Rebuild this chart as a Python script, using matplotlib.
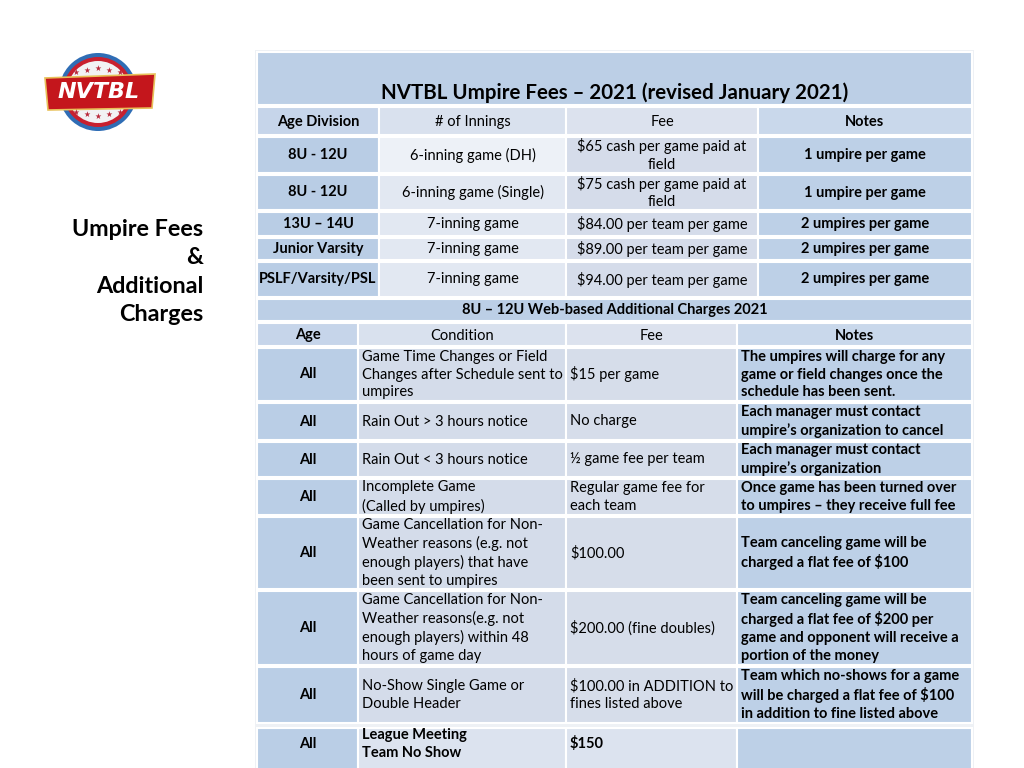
import matplotlib.pyplot as plt
from matplotlib.patches import Rectangle, Circle, Polygon

plt.rcParams['font.family'] = ['Lato', 'DejaVu Sans']

# data
title = 'NVTBL Umpire Fees \u2013 2021 (revised January 2021)'
fee_header = ['Age Division', '# of Innings', 'Fee', 'Notes']
fee_rows = [
    ['8U - 12U', '6-inning game (DH)', '$65 cash per game paid at\nfield', '1 umpire per game'],
    ['8U - 12U', '6-inning game (Single)', '$75 cash per game paid at\nfield', '1 umpire per game'],
    ['13U \u2013 14U', '7-inning game', '$84.00 per team per game', '2 umpires per game'],
    ['Junior Varsity', '7-inning game', '$89.00 per team per game', '2 umpires per game'],
    ['PSLF/Varsity/PSL', '7-inning game', '$94.00 per team per game', '2 umpires per game'],
]
extra_title = '8U \u2013 12U Web-based Additional Charges 2021'
extra_header = ['Age', 'Condition', 'Fee', 'Notes']
extra_rows = [
    ['All', 'Game Time Changes or Field\nChanges after Schedule sent to\numpires', '$15 per game',
     'The umpires will charge for any\ngame or field changes once the\nschedule has been sent.'],
    ['All', 'Rain Out > 3 hours notice', 'No charge',
     'Each manager must contact\numpire\u2019s organization to cancel'],
    ['All', 'Rain Out < 3 hours notice', '\u00bd game fee per team',
     'Each manager must contact\numpire\u2019s organization'],
    ['All', 'Incomplete Game\n(Called by umpires)', 'Regular game fee for\neach team',
     'Once game has been turned over\nto umpires \u2013 they receive full fee'],
    ['All', 'Game Cancellation for Non-\nWeather reasons (e.g. not\nenough players) that have\nbeen sent to umpires', '$100.00',
     'Team canceling game will be\ncharged a flat fee of $100'],
    ['All', 'Game Cancellation for Non-\nWeather reasons(e.g. not\nenough players) within 48\nhours of game day', '$200.00 (fine doubles)',
     'Team canceling game will be\ncharged a flat fee of $200 per\ngame and opponent will receive a\nportion of the money'],
    ['All', 'No-Show Single Game or\nDouble Header', '$100.00 in ADDITION to\nfines listed above',
     'Team which no-shows for a game\nwill be charged a flat fee of $100\nin addition to fine listed above'],
    ['All', 'League Meeting\nTeam No Show', '$150', ''],
]

# layout (pixels)
L, R = 257, 972
cols1 = [257, 379, 566, 758, 972]
rows1 = [(107, 135), (137, 173), (175, 210), (212, 236), (238, 260), (262, 297)]
cols2 = [257, 358, 566, 737, 972]
rows2 = [(323, 346), (348, 401), (403, 440), (442, 477), (479, 515), (517, 589), (591, 665), (667, 723), (728, 772)]

col_colors1 = ['#B9CDE5', '#E2E8F2', '#D5DCEA', '#BDD0E7']
head_colors1 = ['#C6D5EA', '#D9E1EE', '#DCE2EE', '#C9D8EB']
col_colors2 = ['#BACEE6', '#D4DCEA', '#D6DDEA', '#BDD0E7']
head_colors2 = ['#C6D5EA', '#D9E1EE', '#DCE2EE', '#C9D8EB']
band = '#BCCFE6'
fs = 10.5
ls = 1.36

fig = plt.figure(figsize=(10.24, 7.68), dpi=100)
ax = fig.add_axes([0, 0, 1, 1])
ax.set_xlim(0, 1024)
ax.set_ylim(768, 0)
ax.axis('off')


def cell(x0, x1, y0, y1, color):
    ax.add_patch(Rectangle((x0, y0), x1 - x0, y1 - y0, facecolor=color, edgecolor='white', lw=1.5))


# faint shadow round the table
ax.add_patch(Rectangle((L - 2, 50), R - L + 4, 722, facecolor='#EEF1F5', edgecolor='none'))

# title band
cell(L, R, 52, 105, band)
ax.text((L + R) / 2, 93, title, ha='center', va='center', fontsize=14.8, fontweight='bold', color='black')

# fee table
for j, h in enumerate(fee_header):
    y0, y1 = rows1[0]
    cell(cols1[j], cols1[j + 1], y0, y1, head_colors1[j])
    ax.text((cols1[j] + cols1[j + 1]) / 2, (y0 + y1) / 2 + 1, h, ha='center', va='center', fontsize=fs,
            fontweight='bold' if j in (0, 3) else 'normal')
for i, row in enumerate(fee_rows):
    y0, y1 = rows1[i + 1]
    for j, txt in enumerate(row):
        c = col_colors1[j]
        if i == 0 and j == 1:
            c = '#EDF1F7'
        cell(cols1[j], cols1[j + 1], y0, y1, c)
        ax.text((cols1[j] + cols1[j + 1]) / 2, (y0 + y1) / 2, txt, ha='center', va='center', fontsize=fs,
                fontweight='bold' if j in (0, 3) else 'normal', linespacing=ls)

# additional charges
cell(L, R, 299, 321, band)
ax.text((L + R) / 2, 310, extra_title, ha='center', va='center', fontsize=fs, fontweight='bold')
for j, h in enumerate(extra_header):
    y0, y1 = rows2[0]
    cell(cols2[j], cols2[j + 1], y0, y1, head_colors2[j])
    ax.text((cols2[j] + cols2[j + 1]) / 2, (y0 + y1) / 2 + 1, h, ha='center', va='center', fontsize=fs,
            fontweight='bold' if j in (0, 3) else 'normal')
for i, row in enumerate(extra_rows):
    y0, y1 = rows2[i + 1]
    last = i == len(extra_rows) - 1
    for j, txt in enumerate(row):
        c = col_colors2[j]
        if last and j in (1, 2):
            c = '#DCE3EF'
        cell(cols2[j], cols2[j + 1], y0, y1, c)
        bold = j in (0, 3) or last
        ym = (y0 + y1) / 2 if not last else 744
        if j == 0:
            ax.text((cols2[j] + cols2[j + 1]) / 2, ym, txt, ha='center', va='center',
                    fontsize=fs, fontweight='bold')
        else:
            ax.text(cols2[j] + 4, ym, txt, ha='left', va='center', fontsize=fs,
                    fontweight='bold' if bold else 'normal', linespacing=ls)

# side caption
ax.text(203, 272, 'Umpire Fees\n&\nAdditional\nCharges', ha='right', va='center', fontsize=16.8,
        fontweight='bold', linespacing=1.42)

# logo
cx, cy = 98, 92
ax.add_patch(Circle((cx, cy), 39, facecolor='#2F6DB5', edgecolor='none'))
ax.add_patch(Circle((cx, cy), 35, facecolor='#C8202F', edgecolor='none'))
ax.add_patch(Circle((cx, cy), 31, facecolor='#F2F2F4', edgecolor='none'))
ax.add_patch(Polygon([(45, 78), (155, 74), (152, 108), (48, 110)], closed=True,
                     facecolor='#C4161C', edgecolor='#E8C15A', lw=1.2))
for k in range(5):
    for sgn in (-1, 1):
        ax.text(cx - 22 + k * 11, cy + sgn * (24 - abs(k - 2) * 2), '\u2605', ha='center', va='center',
                fontsize=5.5, color='#B8283A', family='DejaVu Sans')
ax.text(cx + 1, 92, 'NVTBL', ha='center', va='center', fontsize=16, fontweight='bold',
        style='italic', color='white', family='DejaVu Sans')

fig.savefig('out.png', dpi=100)
